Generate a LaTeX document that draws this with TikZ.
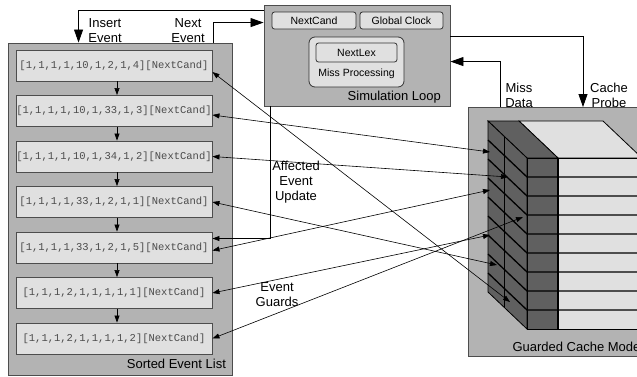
\documentclass[tikz,border=0pt]{standalone}
\usepackage{fontspec}
\setmainfont{Liberation Sans}
\setmonofont{Liberation Mono}
\usetikzlibrary{arrows.meta,positioning,calc}
\definecolor{panelgray}{HTML}{B3B3B3}
\definecolor{cellgray}{HTML}{E0E0E0}
\definecolor{edgegray}{HTML}{4D4D4D}
\definecolor{facegray}{HTML}{606060}

\begin{document}
\begin{tikzpicture}[x=1pt, y=-1pt, >={Triangle[length=7pt,width=5pt]},
    font=\fontsize{13}{15}\selectfont,
    panel/.style={draw=edgegray, fill=panelgray, line width=0.9pt},
    evbox/.style={draw=edgegray, fill=cellgray, line width=0.9pt, minimum width=196pt,
      minimum height=31pt, inner sep=0pt, text=black!70, font=\ttfamily\fontsize{10.5}{12}\selectfont},
    tag/.style={draw=black!80, fill=cellgray, rounded corners=2.5pt, line width=0.8pt,
      inner sep=0pt, font=\fontsize{10.5}{12}\selectfont},
    lbl/.style={align=center, inner sep=0pt},
    bigarrow/.style={-{Triangle[length=13pt,width=9pt]}, line width=0.8pt},
    link/.style={<->, line width=0.6pt}]
\useasboundingbox (0,0) rectangle (637,376);
\clip (0,0) rectangle (637,376);
\node[lbl] (insl) at (105,30.5) {Insert\\Event};
\node[lbl] (nextl) at (188,30.5) {Next\\Event};
\node[lbl] (missl) at (519,95) {Miss\\Data};
\node[lbl] (probel) at (609,95) {Cache\\Probe};

\node[panel, minimum width=224pt, minimum height=332pt] (list) at (120,209) {};
\node[anchor=base east] at ([xshift=-3pt,yshift=7pt]list.south east) {Sorted Event List};
\node[evbox] (e1) at (114,65.5) {[1,1,1,1,10,1,2,1,4][NextCand]};
\node[evbox, below=13.6pt of e1] (e2) {[1,1,1,1,10,1,33,1,3][NextCand]};
\node[evbox, below=13.6pt of e2] (e3) {[1,1,1,1,10,1,34,1,2][NextCand]};
\node[evbox, below=13.6pt of e3] (e4) {[1,1,1,1,33,1,2,1,1][NextCand]};
\node[evbox, below=13.6pt of e4] (e5) {[1,1,1,1,33,1,2,1,5][NextCand]};
\node[evbox, below=13.6pt of e5] (e6) {[1,1,1,2,1,1,1,1,1][NextCand]};
\node[evbox, below=13.6pt of e6] (e7) {[1,1,1,2,1,1,1,1,2][NextCand]};
\foreach \a/\b in {e1/e2,e2/e3,e3/e4,e4/e5,e5/e6,e6/e7}
  \draw[->, line width=0.6pt] ([xshift=3pt]\a.south) -- ([xshift=3pt]\b.north);

\node[panel, minimum width=186pt, minimum height=101pt] (sim) at (357,55.5) {};
\node[tag, minimum width=84pt, minimum height=17pt] (cand) at (314,20.5) {NextCand};
\node[tag, minimum width=83pt, minimum height=17pt] (clock) at (401.5,20.5) {Global Clock};
\node[tag, rounded corners=6pt, minimum width=95pt, minimum height=50pt] (miss) at (356.5,62) {};
\node[tag, minimum width=81pt, minimum height=19pt] (lex) at (356.5,52.5) {NextLex};
\node[font=\fontsize{10.5}{12}\selectfont] (missp) at (356.5,74) {Miss Processing};
\node[anchor=base east] at ([xshift=-6pt,yshift=6pt]sim.south east) {Simulation Loop};

\node[panel, minimum width=200pt, minimum height=249pt, anchor=north west] (cache) at (468,107) {};
\node[anchor=base west] at ([xshift=41pt,yshift=5.5pt]cache.south west) {Guarded Cache Model};
\filldraw[fill=cellgray, draw=black, line width=0.8pt] (558,158) -- (519,121) -- (603,121) -- (642,158) -- cycle;
\filldraw[fill=facegray, draw=black, line width=0.8pt] (527,158) -- (488,121) -- (519,121) -- (558,158) -- cycle;
\filldraw[fill=facegray, draw=black, line width=0.8pt] (527,158) -- (488,121) -- (488,292) -- (527,329) -- cycle;
\filldraw[fill=facegray, draw=black, line width=0.8pt] (527,158) rectangle (558,329);
\filldraw[fill=cellgray, draw=black, line width=0.8pt] (558,158) rectangle (650,329);
\foreach \r in {1,...,8}
  \draw[line width=1.3pt] (488,{121+19*\r}) -- (527,{158+19*\r}) -- (650,{158+19*\r});
\draw[line width=0.6pt] (504,137) -- (504,308);
\draw[line width=1.3pt] (558,158) -- (558,329);

\coordinate (c1) at (510,302);
\coordinate (c2) at (490,152);
\coordinate (c3) at (508,177);
\coordinate (c4) at (497,265);
\coordinate (c5) at (490,190);
\coordinate (c6) at (490,235);
\coordinate (c7) at (523,217);

\draw[bigarrow] ([yshift=-6pt]sim.north west) -| ([xshift=71pt]list.north west);
\draw[bigarrow] ([xshift=-19pt]list.north east) |- ([yshift=-18pt]sim.north west);
\draw[bigarrow] ([yshift=-32pt]sim.north east) -| ([xshift=115pt]cache.north west);
\draw[bigarrow] ([xshift=32pt]cache.north west) |- ([yshift=-57pt]sim.north east);
\draw[->, line width=0.8pt] ([xshift=7pt]sim.south west) |- ([yshift=9pt]e5.east);
\node[lbl] (affl) at (296,182) {Affected\\Event\\Update};
\node[lbl] (guardl) at (277,295) {Event\\Guards};

\draw[link] ([yshift=-6.5pt]e1.east) -- (c1);
\draw[link] ([yshift=-4pt]e2.east) -- (c2);
\draw[link] (e3.east) -- (c3);
\draw[link] (e4.east) -- (c4);
\draw[link] ([yshift=-3pt]e5.east) -- (c5);
\draw[link] (e6.east) -- (c6);
\draw[link] (e7.east) -- (c7);
\end{tikzpicture}
\end{document}
